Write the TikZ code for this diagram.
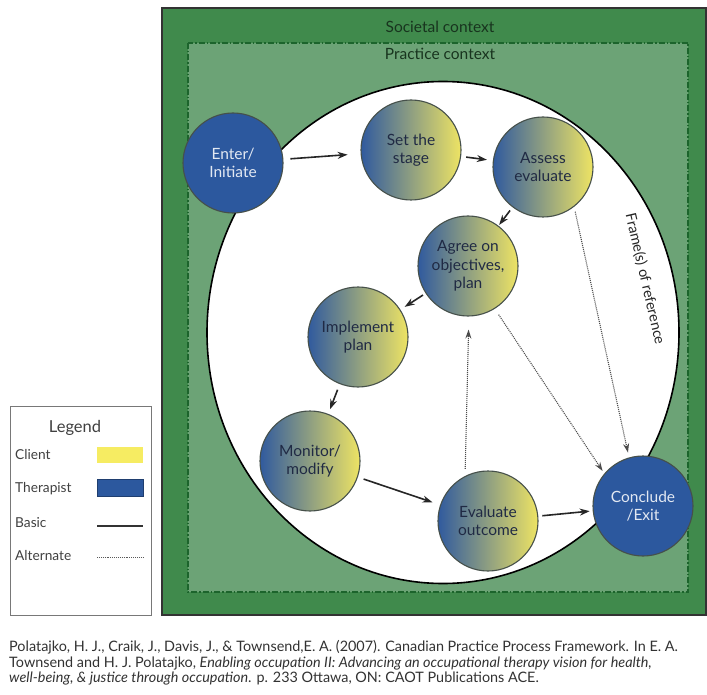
\documentclass[tikz,border=0pt]{standalone}
\usepackage{fontspec}
\setmainfont{Lato}
\usetikzlibrary{arrows.meta,positioning,shapes.geometric}

\definecolor{societal}{RGB}{64,138,76}
\definecolor{practice}{RGB}{108,163,118}
\definecolor{ctxline}{RGB}{28,100,44}
\definecolor{ctxtext}{RGB}{24,52,30}
\definecolor{therblue}{RGB}{44,88,158}
\definecolor{stblue}{RGB}{48,90,158}
\definecolor{stmid}{RGB}{134,148,128}
\definecolor{styellow}{RGB}{238,228,100}
\definecolor{legyellow}{RGB}{246,236,98}
\definecolor{rimgray}{RGB}{70,80,74}
\definecolor{stagetext}{RGB}{32,42,68}
\definecolor{thertext}{RGB}{226,232,242}
\definecolor{legendgray}{RGB}{120,120,120}
\definecolor{citetext}{RGB}{50,50,50}

\begin{document}
\begin{tikzpicture}[x=1pt, y=-1pt,
    every node/.style={inner sep=1pt},
    stagenode/.style={circle, draw=rimgray, line width=1.1pt, left color=stblue, middle color=stmid, right color=styellow, minimum size=100pt, align=center, text=stagetext, font=\fontsize{15.5}{18.5}\selectfont},
    thernode/.style={circle, draw=rimgray, line width=1.1pt, fill=therblue, minimum size=100pt, align=center, text=thertext, font=\fontsize{15.5}{18.5}\selectfont},
    arr/.style={-{Stealth[length=10pt, width=7pt]}, line width=1.6pt, draw=black!85},
    alt/.style={-{Stealth[length=9pt, width=6pt]}, line width=1.1pt, draw=black!70, dash pattern=on 1pt off 1pt},
    ctxt/.style={text=ctxtext, font=\fontsize{15.5}{18}\selectfont},
    legtxt/.style={anchor=west, text=black!75, font=\fontsize{13.7}{16}\selectfont}]
    \useasboundingbox (0,0) rectangle (707,695);

    % contexts
    \draw[fill=societal, draw=black!80, line width=1.2pt] (162,8) rectangle (706,615);
    \draw[fill=practice, draw=ctxline, line width=1.1pt, dash pattern=on 6pt off 2pt on 1.5pt off 2pt] (188,43) rectangle (688,592);
    \node[ctxt] (societaltitle) at (440,27) {Societal context};
    \node[ctxt] (practicetitle) at (440,54) {Practice context};

    % frame(s) of reference
    \draw[fill=white, draw=black, line width=1.6pt] (443,332.5) ellipse [x radius=236, y radius=251];
    \node[rotate=-77, text=black!85, font=\fontsize{14.5}{16}\selectfont] (frame) at (645,279) {Frame(s) of reference};

    % process stages
    \node[thernode] (enter) at (233,163) {Enter/\\Initiate};
    \node[stagenode] (setstage) at (411,150) {Set the\\stage};
    \node[stagenode] (assess) at (543,167) {Assess\\evaluate};
    \node[stagenode] (agree) at (468,266) {Agree on\\objectives,\\plan};
    \node[stagenode] (implement) at (358,337) {Implement\\plan};
    \node[stagenode] (monitor) at (310,461) {Monitor/\\modify};
    \node[stagenode] (evaluate) at (488,521) {Evaluate\\outcome};
    \node[thernode] (conclude) at (643,506) {Conclude\\/Exit};

    % basic path
    \draw[arr, shorten <=7pt, shorten >=13pt] (enter) -- (setstage);
    \draw[arr, shorten <=5pt, shorten >=6pt] (setstage) -- (assess);
    \draw[arr, shorten <=4pt, shorten >=1pt] (assess) -- (agree);
    \draw[arr, shorten <=3pt, shorten >=5pt] (agree) -- (implement);
    \draw[arr, shorten <=6pt, shorten >=5pt] (implement) -- (monitor);
    \draw[arr, shorten <=6pt, shorten >=8pt] (monitor) -- (evaluate);
    \draw[arr, shorten <=4pt, shorten >=3pt] (evaluate) -- (conclude);

    % alternate paths
    \draw[alt, shorten <=5pt, shorten >=5pt] (assess.-52) -- (conclude.106);
    \draw[alt, shorten <=7pt, shorten >=3pt] (agree.-58) -- (conclude.140);
    \draw[alt, shorten <=7pt, shorten >=13pt] (evaluate.117) -- (agree.-89);

    % legend
    \node[draw=legendgray, line width=0.9pt, fill=white, minimum width=141pt, minimum height=209pt] (legend) at (80.5,510.5) {};
    \node[text=black!75, font=\fontsize{16.5}{18}\selectfont] (legtitle) at (75,428) {Legend};
    \node[legtxt] (client) at (14,455) {Client};
    \node[legtxt] (therapist) at (14,489) {Therapist};
    \node[legtxt] (basic) at (14,523) {Basic};
    \node[legtxt] (alternate) at (14,556) {Alternate};
    \node[fill=legyellow, minimum width=46pt, minimum height=16pt] (clientkey) at (120,455) {};
    \node[fill=therblue, draw=therblue!70!black, minimum width=46pt, minimum height=17pt] (therkey) at (120,488) {};
    \coordinate (basicA) at (97,526);
    \coordinate (basicB) at (143,526);
    \coordinate (altA) at (97,557);
    \coordinate (altB) at (143,557);
    \draw[line width=1.5pt, draw=black!80] (basicA) -- (basicB);
    \draw[line width=0.9pt, draw=black!65, dash pattern=on 0.9pt off 1pt] (altA) -- (altB);

    % source
    \node[anchor=west, align=left, text=citetext, font=\fontsize{14.4}{15.5}\selectfont] (source) at (8,663)
        {Polatajko, H. J., Craik, J., Davis, J., \& Townsend,E. A. (2007). Canadian Practice Process Framework. In E. A.\\
         Townsend and H. J. Polatajko, \textit{Enabling occupation II: Advancing an occupational therapy vision for health,}\\
         \textit{well-being, \& justice through occupation}. p. 233 Ottawa, ON: CAOT Publications ACE.};
\end{tikzpicture}
\end{document}
